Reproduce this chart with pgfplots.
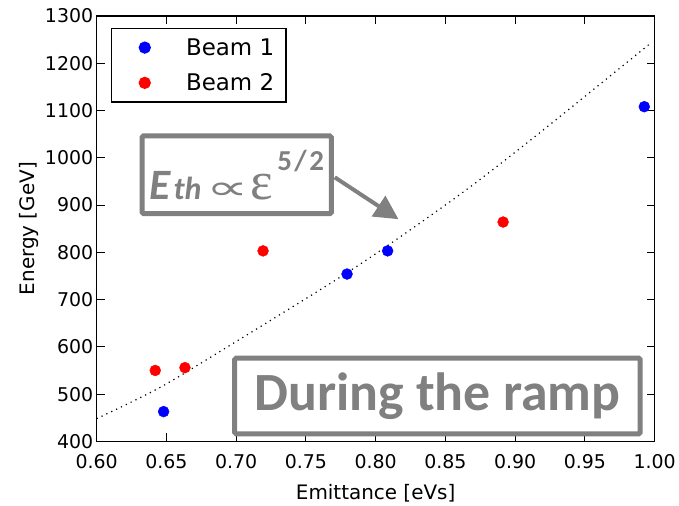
\documentclass[border=0pt]{standalone}
\usepackage{pgfplots}
\pgfplotsset{compat=1.18}
\usepackage{fontspec}
\setmainfont{DejaVu Sans}
\newfontfamily\carlito{Carlito}
\newfontfamily\lserif{Liberation Serif}
\usetikzlibrary{arrows.meta}
\definecolor{anngray}{RGB}{128,128,128}
\begin{document}
\begin{tikzpicture}
\begin{axis}[
  scale only axis, width=560bp, height=427bp,
  xmin=0.6, xmax=1.0, ymin=400, ymax=1300,
  xtick={0.6,0.65,0.7,0.75,0.8,0.85,0.9,0.95,1.0},
  ytick={400,500,600,700,800,900,1000,1100,1200,1300},
  xticklabel style={yshift=-10bp, /pgf/number format/fixed, /pgf/number format/fixed zerofill, /pgf/number format/precision=2},
  /pgf/number format/1000 sep={},
  /pgf/number format/assume math mode=true,
  tick align=inside, major tick length=8bp,
  tick style={black, line width=1bp},
  axis line style={line width=1.3bp},
  ticklabel style={font=\fontsize{19bp}{22bp}\selectfont},
  label style={font=\fontsize{20bp}{24bp}\selectfont},
  xlabel style={yshift=-8bp},
  xlabel={Emittance [eVs]}, ylabel={Energy [GeV]},
  legend cell align=left,
  legend image code/.code={\path (0bp,0bp); \draw[#1] plot coordinates {(23bp,0bp)};},
  legend style={at={(axis description cs:0,1)}, anchor=north west,
    xshift=14bp, yshift=-12bp, draw=black, line width=1.3bp,
    font=\fontsize{23bp}{28bp}\selectfont, inner xsep=10bp, inner ysep=8bp,
    row sep=13bp, /tikz/every odd column/.append style={column sep=34bp}},
]
\addplot[only marks, mark=*, mark size=5.5bp, draw=blue, fill=blue] coordinates {
  (0.648,463) (0.7795,754) (0.8086,803) (0.9926,1108)};
\addlegendentry{Beam 1}
\addplot[only marks, mark=*, mark size=5.5bp, draw=red, fill=red] coordinates {
  (0.642,550) (0.6633,556) (0.7193,803) (0.8914,864)};
\addlegendentry{Beam 2}
\addplot[black, line width=1.2bp, dash pattern=on 1.2bp off 4.2bp, smooth, forget plot] coordinates {
  (0.600,448) (0.646,515) (0.696,604) (0.769,737) (0.809,815) (0.864,930) (0.916,1049) (0.997,1242)};

\coordinate (ll) at (rel axis cs:0,0);
\coordinate (ur) at (rel axis cs:1,1);
\node[draw=anngray, line width=5bp, minimum width=407bp, minimum height=76bp,
  text=anngray, font=\carlito\bfseries\fontsize{54bp}{60bp}\selectfont, rounded corners=1.5bp]
  at (axis cs:0.8443,496) {During the ramp};
\node[draw=anngray, fill=white, line width=5bp, minimum width=190bp, minimum height=78bp,
  text=anngray, inner sep=0pt, rounded corners=1.5bp] at (axis cs:0.7004,964)
  {{\carlito\bfseries\itshape\fontsize{43.5bp}{50bp}\selectfont E\hspace{3bp}\fontsize{32bp}{36bp}\selectfont th}\hspace{5bp}{\fontsize{34bp}{40bp}\selectfont\scalebox{1.75}[1.0]{∝}}\hspace{2bp}{\lserif\fontsize{54bp}{60bp}\selectfont ε}\hspace{4bp}\raisebox{29bp}{\carlito\bfseries\fontsize{29bp}{34bp}\selectfont 5\hspace{2.5bp}/\hspace{2.5bp}2}};
\draw[anngray, line width=4bp, -{Triangle[length=24bp,width=24bp]}]
  (axis cs:0.7707,958.6) -- (axis cs:0.8164,870);
\end{axis}
\path (ll) ++(-97bp,-60bp);
\path (ur) ++(22bp,16bp);
\end{tikzpicture}
\end{document}
